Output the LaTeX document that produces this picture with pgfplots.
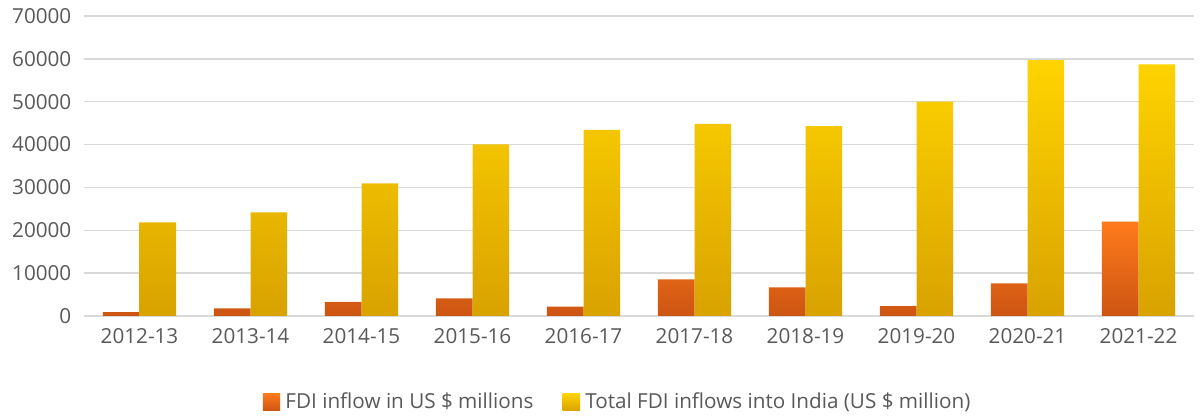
\documentclass[border=0pt]{standalone}
\usepackage{pgfplots}
\pgfplotsset{compat=1.18}
\usepackage{fontspec}
\setmainfont{Open Sans}
\definecolor{txt}{HTML}{595959}
\definecolor{gridc}{HTML}{D9D9D9}
\definecolor{orT}{HTML}{FF7B1C}
\definecolor{orB}{HTML}{CC5512}
\definecolor{yeT}{HTML}{FFD400}
\definecolor{yeB}{HTML}{D9A200}
\begin{document}
\begin{tikzpicture}
\useasboundingbox (-63pt,-75pt) rectangle (837pt,237pt);
\begin{axis}[
  scale only axis,
  width=832.5pt, height=225pt,
  xmin=-0.5, xmax=9.5,
  ymin=0, ymax=70000,
  ytick={0,10000,...,70000},
  xtick={0,...,9},
  xticklabels={2012-13,2013-14,2014-15,2015-16,2016-17,2017-18,2018-19,2019-20,2020-21,2021-22},
  axis line style={draw=none},
  ymajorgrids=true, xmajorgrids=false,
  grid style={color=gridc, line width=1pt},
  major tick length=0pt,
  tick label style={font=\fontsize{15.5}{18}\selectfont, text=txt},
  /pgf/number format/assume math mode=true,
  scaled y ticks=false,
  yticklabel={\pgfmathprintnumber[fixed, 1000 sep={}]{\tick}},
  yticklabel style={xshift=-6pt},
  xticklabel style={yshift=-6pt},
  ybar, bar width=0.33,
  legend style={at={(0.481,-0.285)}, anchor=center, draw=none, legend columns=2,
    font=\fontsize{15.5}{18}\selectfont, text=txt,
    /tikz/every odd column/.append style={column sep=2pt},
    /tikz/every even column/.append style={column sep=20pt}},
  legend image code/.code={\fill[#1] (0pt,-7pt) rectangle (13pt,6pt);},
]
\addplot[draw=none, top color=orT, bottom color=orB, bar shift=-0.165] coordinates {
(0,900) (1,1800) (2,3300) (3,4130) (4,2170) (5,8560) (6,6700) (7,2330) (8,7630) (9,22000)};
\addlegendentry{FDI inflow in US \$ millions}
\addplot[draw=none, top color=yeT, bottom color=yeB, bar shift=0.165] coordinates {
(0,21860) (1,24200) (2,30960) (3,40060) (4,43400) (5,44800) (6,44330) (7,50000) (8,59730) (9,58730)};
\addlegendentry{Total FDI inflows into India (US \$ million)}
\end{axis}
\end{tikzpicture}
\end{document}
